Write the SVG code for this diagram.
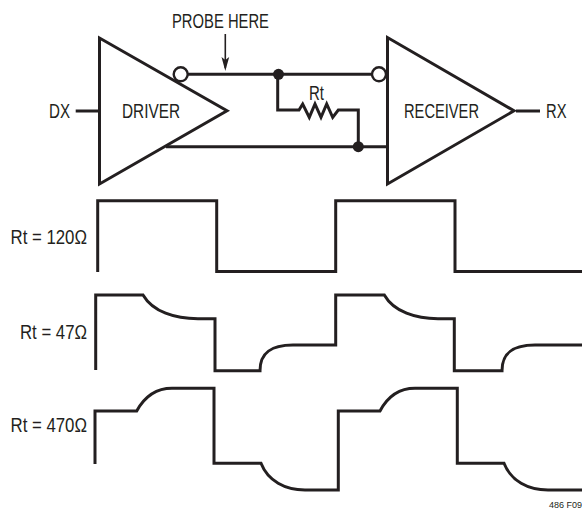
<svg xmlns="http://www.w3.org/2000/svg" width="582" height="511" viewBox="0 0 582 511">
<style>
text{font-family:"Liberation Sans",Arial,sans-serif;font-size:20px;fill:#231f20}
.l{fill:none;stroke:#231f20;stroke-width:3}
.b{fill:#fff;stroke:#231f20;stroke-width:2.4}
.d{fill:#231f20}
</style>
<g id="connectors">
<path class="l" d="M75.700 111H99"/>
<path class="l" d="M187 74.300H372"/>
<path class="l" d="M277.700 74.300V110H299L302.700 104L309.300 117.300L315 104L321 117.300L326.700 104L332.700 117.300L338.300 110H358.300V146.700"/>
<path class="l" d="M166 146.700H388"/>
<path class="l" d="M516 111H540"/>
<path d="M225.300 34V68" fill="none" stroke="#231f20" stroke-width="1.600"/>
<path class="d" d="M221.500 57L225.300 60L229.200 57L225.300 71Z"/>
<circle class="d" cx="278.500" cy="74.300" r="5.500"/>
<circle class="d" cx="358.300" cy="146.700" r="5.500"/>
</g>
<g id="driver"><path class="l" d="M99.500 38V184L227 110.800Z"/><circle class="b" cx="180.700" cy="74.300" r="7"/><text x="122" y="118" textLength="58" lengthAdjust="spacingAndGlyphs">DRIVER</text></g>
<g id="receiver"><path class="l" d="M387.500 37.500V184L514 110.800Z"/><circle class="b" cx="379" cy="74.300" r="7"/><text x="404" y="118" textLength="75" lengthAdjust="spacingAndGlyphs">RECEIVER</text></g>
<g id="labels">
<text x="49" y="118" textLength="21" lengthAdjust="spacingAndGlyphs">DX</text>
<text x="546" y="118" textLength="20.500" lengthAdjust="spacingAndGlyphs">RX</text>
<text x="172" y="28" textLength="97" lengthAdjust="spacingAndGlyphs">PROBE HERE</text>
<text x="309" y="100" textLength="15" lengthAdjust="spacingAndGlyphs">Rt</text>
<text x="10.500" y="244" textLength="76.500" lengthAdjust="spacingAndGlyphs">Rt = 120Ω</text>
<text x="20" y="339" textLength="67" lengthAdjust="spacingAndGlyphs">Rt = 47Ω</text>
<text x="10.500" y="431.700" textLength="76.500" lengthAdjust="spacingAndGlyphs">Rt = 470Ω</text>
<text x="549" y="507.500" style="font-size:9px">486 F09</text>
</g>
<g id="waveforms">
<path class="l" d="M97.700 272V200.700H216.700V271.500H335.700V200.700H455V271.500H582"/>
<path class="l" d="M95.700 370V295H143C153 312 175 318.700 198 318.700H215V370.700H260C260 352 272 345 293 345H335.700V295H384.300C394 312 416 318.700 438 318.700H454.300V370.700H502C502 352 514 345 535 345H582"/>
<path class="l" d="M95 464V411H136.700C145 396 156 388.300 172 388.300H214V463.300H261C268 481 285 490 305 490H338.300V411H380C388 396 399 388.300 415 388.300H457.300V463.300H504C511 481 528 490 548 490H582"/>
</g>
</svg>
